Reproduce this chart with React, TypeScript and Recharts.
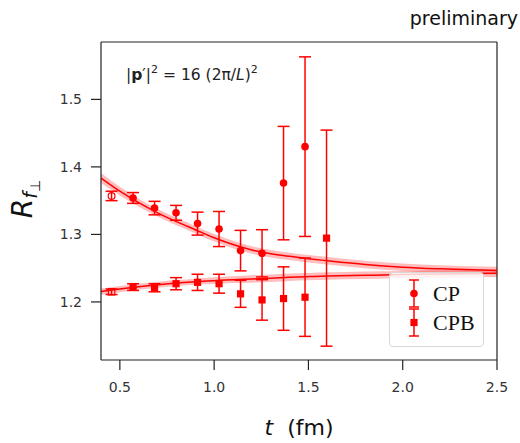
import {
  Area,
  ComposedChart,
  ErrorBar,
  Legend,
  Line,
  ReferenceLine,
  Scatter,
  XAxis,
  YAxis,
} from "recharts";

const RED = "#ff0000";
const AXIS = "#222222";
const SANS = "DejaVu Sans";

// data points
const tCP = [0.456, 0.57, 0.684, 0.798, 0.912, 1.026, 1.14, 1.254, 1.368, 1.482];
const cpValues = [1.357, 1.354, 1.339, 1.332, 1.316, 1.308, 1.276, 1.272, 1.376, 1.43];
const cpErrors = [0.007, 0.008, 0.01, 0.011, 0.017, 0.026, 0.03, 0.035, 0.084, 0.133];

const tCPB = [0.456, 0.57, 0.684, 0.798, 0.912, 1.026, 1.14, 1.254, 1.368, 1.482, 1.596];
const cpbValues = [1.215, 1.222, 1.221, 1.227, 1.229, 1.227, 1.212, 1.203, 1.205, 1.207, 1.2945];
const cpbErrors = [0.004, 0.005, 0.006, 0.009, 0.012, 0.014, 0.02, 0.03, 0.047, 0.058, 0.16];

// first time slice is left out of the fit (open marker)
const openPoints = [0];

// fit curves and their error bands
const fitT = [0.4, 0.5, 0.6, 0.7, 0.8, 0.9, 1.0, 1.1, 1.2, 1.3, 1.4, 1.5, 1.6, 1.8, 2.0, 2.2, 2.5];
const cpFit = [1.3835, 1.364, 1.347, 1.332, 1.319, 1.307, 1.295, 1.285, 1.277, 1.2715, 1.2675, 1.264, 1.261, 1.2555, 1.2515, 1.249, 1.2465];
const cpFitErr = [0.0075, 0.0065, 0.006, 0.0055, 0.0055, 0.0055, 0.0055, 0.0055, 0.0055, 0.0055, 0.0055, 0.0055, 0.0055, 0.0055, 0.0055, 0.0055, 0.0055];
const cpbFit = [1.2153, 1.219, 1.2225, 1.2255, 1.228, 1.23, 1.2315, 1.233, 1.234, 1.235, 1.2365, 1.2375, 1.2383, 1.2395, 1.2405, 1.2415, 1.2425];
const cpbFitErr = [0.0045, 0.0045, 0.0045, 0.0045, 0.0045, 0.0045, 0.005, 0.005, 0.0055, 0.0055, 0.0055, 0.0055, 0.0055, 0.0055, 0.0055, 0.0055, 0.0055];

const xTicks = [0.5, 1.0, 1.5, 2.0, 2.5];
const yTicks = [1.2, 1.3, 1.4, 1.5];
const xDomain = [0.4, 2.5];
const yDomain = [1.114, 1.585];

const fitRows = fitT.map((t, i) => ({
  t,
  cpFit: cpFit[i],
  cpBand: [cpFit[i] - cpFitErr[i], cpFit[i] + cpFitErr[i]],
  cpbFit: cpbFit[i],
  cpbBand: [cpbFit[i] - cpbFitErr[i], cpbFit[i] + cpbFitErr[i]],
}));

const cpPoints = tCP.map((t, i) => ({
  t,
  y: cpValues[i],
  err: cpErrors[i],
  open: openPoints.includes(i),
}));

const cpbPoints = tCPB.map((t, i) => ({
  t,
  y: cpbValues[i],
  err: cpbErrors[i],
  open: openPoints.includes(i),
}));

function CircleMarker(props: any) {
  const { cx, cy, payload } = props;
  if (payload?.open) {
    return <circle cx={cx} cy={cy} r={3.4} fill="none" stroke={RED} strokeWidth={1.2} />;
  }
  return <circle cx={cx} cy={cy} r={3.8} fill={RED} />;
}

function SquareMarker(props: any) {
  const { cx, cy, payload } = props;
  if (payload?.open) {
    return (
      <rect x={cx - 3.2} y={cy - 3.2} width={6.4} height={6.4} fill="none" stroke={RED} strokeWidth={1.2} />
    );
  }
  return <rect x={cx - 3.6} y={cy - 3.6} width={7.2} height={7.2} fill={RED} />;
}

function LegendBox() {
  const rows = [
    { name: "CP", marker: "circle" },
    { name: "CPB", marker: "square" },
  ];
  return (
    <div
      style={{
        width: 95,
        height: 75,
        boxSizing: "border-box",
        background: "rgba(255,255,255,0.8)",
        border: "1px solid #d8d8d8",
        borderRadius: 4,
        paddingTop: 6,
      }}
    >
      {rows.map((r) => (
        <div key={r.name} style={{ display: "flex", alignItems: "center", height: 29 }}>
          <svg width={40} height={29} style={{ display: "block" }}>
            <line x1={24} x2={24} y1={1} y2={28} stroke={RED} strokeWidth={1.5} />
            <line x1={19} x2={29} y1={1} y2={1} stroke={RED} strokeWidth={1.5} />
            <line x1={19} x2={29} y1={28} y2={28} stroke={RED} strokeWidth={1.5} />
            {r.marker === "circle" ? (
              <circle cx={24} cy={14.5} r={3.8} fill={RED} />
            ) : (
              <rect x={20.4} y={10.9} width={7.2} height={7.2} fill={RED} />
            )}
          </svg>
          <span
            style={{
              fontFamily: "Liberation Serif",
              fontSize: 22,
              color: "#111",
              marginLeft: 3,
              lineHeight: "29px",
            }}
          >
            {r.name}
          </span>
        </div>
      ))}
    </div>
  );
}

export default function App() {
  return (
    <div style={{ position: "absolute", left: 0, top: 0, width: 520, height: 443, background: "#fff" }}>
      <ComposedChart
        width={520}
        height={443}
        data={fitRows}
        margin={{ top: 42, right: 23, bottom: 33, left: 0 }}
      >
        <XAxis
          dataKey="t"
          type="number"
          domain={xDomain}
          ticks={xTicks}
          allowDataOverflow
          tickFormatter={(v: number) => v.toFixed(1)}
          tickSize={10}
          tickMargin={12}
          height={50}
          stroke={AXIS}
          strokeWidth={1.2}
          tick={{ fill: "#333", fontSize: 14, fontFamily: SANS }}
        />
        <YAxis
          type="number"
          domain={yDomain}
          ticks={yTicks}
          allowDataOverflow
          tickFormatter={(v: number) => v.toFixed(1)}
          tickSize={10}
          tickMargin={9}
          width={101}
          stroke={AXIS}
          strokeWidth={1.2}
          tick={{ fill: "#333", fontSize: 14, fontFamily: SANS }}
        />
        <ReferenceLine y={yDomain[1]} stroke={AXIS} strokeWidth={1.2} ifOverflow="visible" />
        <ReferenceLine x={xDomain[1]} stroke={AXIS} strokeWidth={1.2} ifOverflow="visible" />

        <Area
          dataKey="cpBand"
          type="monotone"
          stroke="none"
          fill={RED}
          fillOpacity={0.26}
          isAnimationActive={false}
          legendType="none"
        />
        <Area
          dataKey="cpbBand"
          type="monotone"
          stroke="none"
          fill={RED}
          fillOpacity={0.26}
          isAnimationActive={false}
          legendType="none"
        />
        <Line
          dataKey="cpFit"
          type="monotone"
          stroke={RED}
          strokeWidth={1.5}
          dot={false}
          isAnimationActive={false}
          legendType="none"
        />
        <Line
          dataKey="cpbFit"
          type="monotone"
          stroke={RED}
          strokeWidth={1.5}
          dot={false}
          isAnimationActive={false}
          legendType="none"
        />

        <Scatter name="CP" data={cpPoints} dataKey="y" shape={CircleMarker} isAnimationActive={false}>
          <ErrorBar dataKey="err" direction="y" width={6} stroke={RED} strokeWidth={1.5} isAnimationActive={false} />
        </Scatter>
        <Scatter name="CPB" data={cpbPoints} dataKey="y" shape={SquareMarker} isAnimationActive={false}>
          <ErrorBar dataKey="err" direction="y" width={6} stroke={RED} strokeWidth={1.5} isAnimationActive={false} />
        </Scatter>

        <Legend
          layout="vertical"
          align="center"
          verticalAlign="middle"
          content={() => <LegendBox />}
          wrapperStyle={{ position: "absolute", left: 389, top: 272, width: 95, height: 75 }}
        />

        <text x={518} y={25} textAnchor="end" fontFamily={SANS} fontSize={19} fill="#111">
          preliminary
        </text>
        <text x={126} y={80} fontFamily={SANS} fontSize={15.5} fill="#222">
          <tspan>|</tspan>
          <tspan fontWeight="bold">p</tspan>
          <tspan>′|</tspan>
          <tspan dy={-7} fontSize={11}>2</tspan>
          <tspan dy={7}> = 16 (2π/</tspan>
          <tspan fontStyle="italic">L</tspan>
          <tspan>)</tspan>
          <tspan dy={-7} fontSize={11}>2</tspan>
        </text>
        <text transform="rotate(-90)" x={-199} y={32} textAnchor="middle" fontFamily={SANS} fill="#111">
          <tspan fontSize={28} fontStyle="italic">R</tspan>
          <tspan fontSize={19} fontStyle="italic" dy={5}>f</tspan>
          <tspan fontSize={14} dy={3}>⊥</tspan>
        </text>
        <text x={299} y={435} textAnchor="middle" fontFamily={SANS} fontSize={22} fill="#111">
          <tspan fontStyle="italic">t</tspan>
          <tspan xmlSpace="preserve">{"  (fm)"}</tspan>
        </text>
      </ComposedChart>
    </div>
  );
}
